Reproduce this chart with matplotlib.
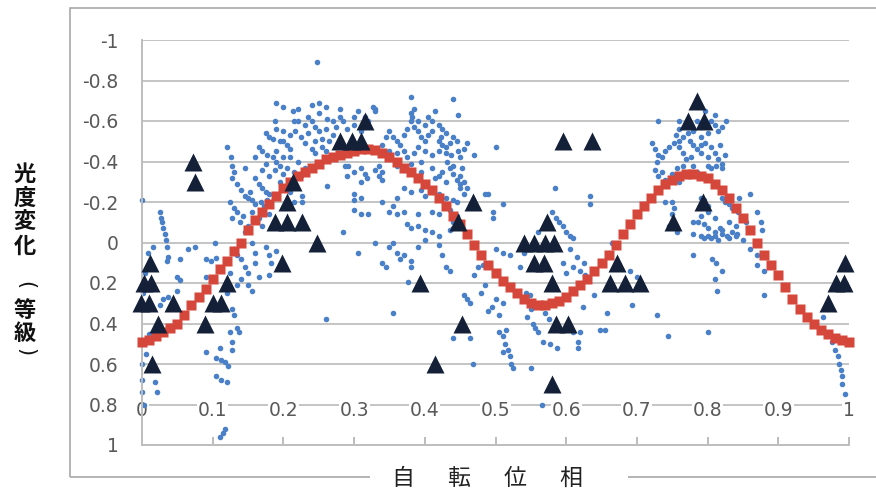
import numpy as np
import matplotlib
matplotlib.use("Agg")
import matplotlib.pyplot as plt
from matplotlib.patches import Rectangle

plt.rcParams['font.family'] = ['DejaVu Sans', 'Noto Sans CJK JP']

# ---------------- data ----------------
y_ticks = [-1, -0.8, -0.6, -0.4, -0.2, 0, 0.2, 0.4, 0.6, 0.8, 1]
y_tick_labels = ['-1', '-0.8', '-0.6', '-0.4', '-0.2', '0', '0.2', '0.4', '0.6', '0.8', '1']
x_ticks = [0, 0.1, 0.2, 0.3, 0.4, 0.5, 0.6, 0.7, 0.8, 0.9, 1]
x_tick_labels = ['0', '0.1', '0.2', '0.3', '0.4', '0.5', '0.6', '0.7', '0.8', '0.9', '1']
x_label = '自　  転　  位　  相'
y_label_top = '光\n度\n変\n化'
y_label_mid = '等\n級'
y_label_open = '('
y_label_close = ')'

# model light curve (red squares), phase 0.00 .. 1.00 in steps of 0.01
model_mag = [0.49, 0.48, 0.46, 0.44, 0.42, 0.40, 0.36, 0.31, 0.27, 0.23,
             0.18, 0.13, 0.09, 0.04, 0.00, -0.06, -0.11, -0.15, -0.19, -0.23,
             -0.27, -0.30, -0.33, -0.35, -0.37, -0.39, -0.41, -0.42, -0.43, -0.44,
             -0.45, -0.46, -0.46, -0.455, -0.44, -0.42, -0.40, -0.37, -0.35, -0.32,
             -0.29, -0.26, -0.22, -0.18, -0.13, -0.09, -0.04, 0.01, 0.06, 0.11,
             0.15, 0.19, 0.22, 0.25, 0.28, 0.30, 0.31, 0.31, 0.30, 0.29,
             0.27, 0.24, 0.21, 0.18, 0.14, 0.10, 0.06, 0.01, -0.04, -0.09,
             -0.14, -0.18, -0.22, -0.26, -0.29, -0.31, -0.33, -0.34, -0.34, -0.33,
             -0.32, -0.29, -0.26, -0.22, -0.17, -0.12, -0.06, 0.00, 0.06, 0.11,
             0.16, 0.22, 0.28, 0.33, 0.37, 0.40, 0.43, 0.45, 0.47, 0.48,
             0.49]
model_phase = np.linspace(0, 1, len(model_mag))

# observations (dark triangles)
tri_phase = [0.011, 0.003, 0.013, -0.002, 0.010, 0.044, 0.023, 0.014,
             0.072, 0.075, 0.089, 0.100, 0.112, 0.120,
             0.188, 0.205, 0.226, 0.205, 0.214, 0.198, 0.248,
             0.280, 0.297, 0.310, 0.315,
             0.393, 0.414, 0.452, 0.447, 0.468,
             0.540, 0.555, 0.570, 0.583, 0.555, 0.568, 0.573, 0.580, 0.585, 0.603, 0.580,
             0.596, 0.636,
             0.672, 0.662, 0.683, 0.704,
             0.751, 0.794, 0.772, 0.795, 0.785,
             0.970, 0.982, 0.993, 0.994]
tri_mag = [0.10, 0.20, 0.20, 0.30, 0.30, 0.30, 0.40, 0.60,
           -0.40, -0.30, 0.40, 0.30, 0.30, 0.20,
           -0.10, -0.10, -0.10, -0.20, -0.30, 0.10, 0.00,
           -0.50, -0.50, -0.50, -0.60,
           0.20, 0.60, 0.40, -0.10, -0.20,
           0.00, 0.00, 0.00, 0.00, 0.10, 0.10, -0.10, 0.20, 0.40, 0.40, 0.70,
           -0.50, -0.50,
           0.10, 0.20, 0.20, 0.20,
           -0.10, -0.20, -0.60, -0.60, -0.70,
           0.30, 0.20, 0.20, 0.10]

# observations (small blue dots), (phase, magnitude) by phase region
blue_a = [(0.0, -0.21), (0.025, -0.15), (0.027, -0.12), (0.028, -0.10), (0.030, -0.07), (0.032, -0.04),
          (0.034, -0.01), (0.036, 0.02), (0.016, 0.02), (0.035, 0.09), (0.054, 0.08), (0.037, 0.07),
          (0.050, 0.17), (0.050, 0.24), (0.025, 0.31), (0.030, 0.28), (0.012, 0.10), (0.008, 0.05),
          (0.004, 0.15), (0.002, 0.25), (0.0, 0.68), (0.0, 0.74), (0.018, 0.69), (0.021, 0.74),
          (0.005, 0.55), (0.010, 0.45), (0.0, 0.60), (0.003, 0.80), (0.037, 0.27), (0.054, 0.185),
          (0.075, 0.02), (0.065, 0.03),
          (0.103, 0.0), (0.090, 0.08), (0.097, 0.09), (0.105, 0.075), (0.090, 0.17), (0.125, 0.44),
          (0.135, 0.42), (0.137, 0.44), (0.127, 0.49), (0.127, 0.53), (0.110, 0.52), (0.105, 0.57),
          (0.112, 0.58), (0.118, 0.59), (0.122, 0.61), (0.090, 0.54), (0.104, 0.66), (0.112, 0.68),
          (0.120, 0.69), (0.114, 0.94), (0.110, 0.96), (0.117, 0.92), (0.130, 0.36), (0.128, 0.33),
          (0.120, 0.25), (0.125, 0.15)]
blue_b = [(0.130, 0.03), (0.135, 0.06), (0.140, 0.08), (0.145, 0.12), (0.150, 0.15), (0.140, 0.18),
          (0.135, 0.21), (0.150, 0.21), (0.155, 0.24), (0.160, 0.10), (0.160, 0.05), (0.155, 0.0),
          (0.165, 0.17), (0.180, 0.06), (0.182, 0.10), (0.180, 0.16), (0.175, 0.02), (0.190, 0.04),
          (0.120, -0.47), (0.126, -0.42), (0.128, -0.38), (0.130, -0.35), (0.127, -0.32), (0.146, -0.37),
          (0.165, -0.47), (0.170, -0.45), (0.177, -0.43), (0.160, -0.42), (0.175, -0.54), (0.180, -0.52),
          (0.185, -0.51), (0.185, -0.42), (0.190, -0.40), (0.188, -0.36), (0.195, -0.38), (0.200, -0.34),
          (0.205, -0.37), (0.160, -0.32), (0.165, -0.29), (0.170, -0.27), (0.175, -0.25), (0.180, -0.24),
          (0.135, -0.29), (0.140, -0.26), (0.145, -0.23), (0.150, -0.22), (0.153, -0.25), (0.125, -0.20),
          (0.130, -0.17), (0.135, -0.15), (0.128, -0.12), (0.138, -0.10), (0.143, -0.13), (0.155, -0.21),
          (0.160, -0.19), (0.168, -0.20), (0.172, -0.18), (0.177, -0.21), (0.188, -0.60), (0.190, -0.56),
          (0.190, -0.69), (0.200, -0.67), (0.214, -0.65), (0.200, -0.50), (0.205, -0.48), (0.210, -0.46),
          (0.145, -0.05), (0.150, -0.08), (0.165, -0.12), (0.170, -0.08), (0.155, -0.15), (0.180, -0.14)]
blue_c = [(0.248, -0.89), (0.250, -0.69), (0.250, -0.64), (0.260, -0.67), (0.270, -0.60), (0.280, -0.62),
          (0.280, -0.66), (0.216, -0.55), (0.225, -0.52), (0.235, -0.54), (0.245, -0.50), (0.255, -0.51),
          (0.250, -0.55), (0.230, -0.49), (0.240, -0.46), (0.260, -0.45), (0.255, -0.47), (0.245, -0.44),
          (0.262, -0.28), (0.287, -0.38), (0.292, -0.38), (0.310, -0.37), (0.315, -0.34), (0.318, -0.32),
          (0.300, -0.21), (0.300, -0.16), (0.310, -0.14), (0.320, -0.14), (0.284, -0.05), (0.226, -0.23),
          (0.226, -0.20), (0.327, -0.67), (0.330, -0.65), (0.210, -0.42), (0.220, -0.40), (0.230, -0.37),
          (0.225, -0.33), (0.215, -0.35), (0.290, -0.56), (0.300, -0.58), (0.310, -0.55), (0.270, -0.53),
          (0.320, -0.60), (0.220, -0.60), (0.235, -0.62), (0.220, -0.66), (0.240, -0.68), (0.262, -0.61),
          (0.260, 0.38), (0.305, 0.05), (0.290, -0.33), (0.300, -0.35), (0.310, -0.30), (0.330, -0.36),
          (0.335, -0.33), (0.340, -0.31)]
blue_d = [(0.380, -0.72), (0.385, -0.66), (0.440, -0.71), (0.447, -0.63), (0.330, -0.66),
          (0.380, -0.64), (0.382, -0.62), (0.380, -0.60), (0.420, -0.58), (0.425, -0.56), (0.430, -0.54),
          (0.423, -0.52), (0.350, -0.55), (0.355, -0.52), (0.360, -0.50), (0.365, -0.48), (0.370, -0.53),
          (0.375, -0.56), (0.385, -0.57), (0.390, -0.55), (0.395, -0.52), (0.400, -0.50), (0.405, -0.53),
          (0.410, -0.55), (0.390, -0.47), (0.400, -0.45), (0.410, -0.43), (0.395, -0.40), (0.420, -0.50),
          (0.425, -0.48), (0.430, -0.47), (0.435, -0.49), (0.440, -0.52), (0.445, -0.50), (0.437, -0.43),
          (0.432, -0.40), (0.440, -0.38), (0.450, -0.42), (0.455, -0.46), (0.447, -0.45), (0.452, -0.37),
          (0.460, -0.49), (0.500, -0.47), (0.470, -0.43), (0.490, -0.24), (0.510, -0.19), (0.497, -0.15),
          (0.497, -0.12), (0.485, -0.24), (0.335, -0.38), (0.340, -0.35), (0.360, -0.38), (0.370, -0.36),
          (0.380, -0.39), (0.395, -0.35), (0.410, -0.37), (0.420, -0.33), (0.425, -0.35), (0.415, -0.32),
          (0.430, -0.30), (0.440, -0.34), (0.445, -0.31), (0.370, -0.27), (0.380, -0.25), (0.395, -0.26),
          (0.400, -0.23), (0.410, -0.25), (0.420, -0.24), (0.430, -0.22), (0.440, -0.21), (0.445, -0.20),
          (0.450, -0.27), (0.455, -0.24), (0.450, -0.29), (0.350, -0.15), (0.360, -0.14), (0.370, -0.15),
          (0.390, -0.14), (0.410, -0.15), (0.420, -0.14), (0.300, -0.24), (0.310, -0.22), (0.340, -0.20),
          (0.355, -0.18), (0.360, -0.22), (0.375, -0.09), (0.380, -0.07), (0.390, -0.08), (0.400, -0.06),
          (0.410, -0.05), (0.420, -0.03), (0.435, -0.06), (0.440, -0.10), (0.445, -0.13), (0.450, -0.08),
          (0.330, 0.0), (0.355, 0.0), (0.430, -0.18), (0.435, -0.16), (0.440, -0.07)]
blue_e = [(0.350, 0.02), (0.360, 0.05), (0.365, 0.08), (0.340, 0.10), (0.345, 0.12), (0.370, 0.06),
          (0.380, 0.09), (0.390, 0.02), (0.400, -0.01), (0.420, 0.01), (0.425, 0.06), (0.430, 0.12),
          (0.435, 0.14), (0.355, 0.35), (0.376, 0.195), (0.455, 0.26), (0.460, 0.28), (0.464, 0.30),
          (0.440, 0.47), (0.464, 0.47), (0.468, 0.60), (0.380, 0.12), (0.475, 0.12), (0.482, 0.11),
          (0.485, 0.21), (0.490, 0.34), (0.495, 0.32), (0.500, 0.28), (0.505, 0.36), (0.510, 0.30),
          (0.505, 0.44), (0.510, 0.46), (0.515, 0.43), (0.513, 0.50), (0.518, 0.53), (0.520, 0.56),
          (0.522, 0.60), (0.510, 0.54), (0.500, 0.03), (0.510, 0.05), (0.520, 0.06), (0.525, 0.62),
          (0.470, 0.16), (0.480, 0.25), (0.550, 0.62), (0.567, 0.49), (0.577, 0.50), (0.587, 0.52),
          (0.553, 0.40), (0.556, 0.42), (0.560, 0.44), (0.617, 0.49), (0.617, 0.52), (0.610, 0.44),
          (0.620, 0.44), (0.624, 0.32), (0.605, 0.03), (0.615, 0.07), (0.610, 0.12), (0.620, 0.14),
          (0.625, 0.10), (0.627, 0.16), (0.566, 0.80), (0.543, 0.25), (0.549, 0.26), (0.545, 0.37),
          (0.550, 0.33), (0.570, 0.35), (0.575, 0.38), (0.540, 0.05), (0.535, 0.12), (0.595, 0.10),
          (0.600, 0.15), (0.584, -0.27), (0.580, -0.15), (0.585, -0.12), (0.590, -0.10), (0.595, -0.08),
          (0.600, -0.05), (0.605, -0.03), (0.610, -0.02), (0.634, -0.23), (0.634, -0.19), (0.575, -0.08),
          (0.560, -0.05)]
blue_f = [(0.648, 0.43), (0.658, 0.35), (0.655, 0.43), (0.693, 0.31), (0.728, 0.36), (0.744, 0.46),
          (0.700, 0.17), (0.690, 0.14), (0.640, 0.26), (0.660, 0.05), (0.665, 0.0),
          (0.730, -0.60), (0.797, -0.65), (0.810, -0.63), (0.826, -0.60), (0.820, -0.57), (0.815, -0.55),
          (0.760, -0.56), (0.755, -0.53), (0.765, -0.52), (0.772, -0.54), (0.780, -0.55), (0.790, -0.52),
          (0.800, -0.54), (0.722, -0.49), (0.725, -0.46), (0.730, -0.43), (0.728, -0.40), (0.735, -0.42),
          (0.740, -0.45), (0.745, -0.47), (0.752, -0.49), (0.760, -0.47), (0.765, -0.44), (0.770, -0.41),
          (0.777, -0.42), (0.785, -0.46), (0.790, -0.48), (0.797, -0.49), (0.805, -0.47), (0.810, -0.44),
          (0.815, -0.41), (0.820, -0.39), (0.818, -0.48), (0.825, -0.43), (0.725, -0.36), (0.730, -0.33),
          (0.735, -0.35), (0.740, -0.31), (0.750, -0.34), (0.757, -0.37), (0.765, -0.38), (0.800, -0.38),
          (0.805, -0.37), (0.812, -0.38), (0.820, -0.37), (0.740, -0.20), (0.750, -0.20), (0.753, -0.17),
          (0.750, -0.14), (0.745, -0.08), (0.757, -0.05), (0.790, -0.22), (0.795, -0.21), (0.800, -0.18),
          (0.820, -0.22), (0.825, -0.20), (0.830, -0.19), (0.835, -0.17), (0.845, -0.22), (0.843, -0.15),
          (0.847, -0.12), (0.855, -0.10), (0.857, -0.07), (0.860, -0.24), (0.780, -0.10), (0.787, -0.10),
          (0.795, -0.09), (0.800, -0.07), (0.810, -0.05), (0.817, -0.07), (0.820, -0.04), (0.827, -0.03),
          (0.835, -0.05), (0.842, -0.04), (0.850, -0.01), (0.815, -0.01), (0.805, -0.02), (0.795, -0.02),
          (0.820, -0.06), (0.780, -0.04), (0.790, -0.03), (0.800, -0.03), (0.810, -0.03), (0.830, -0.02),
          (0.840, -0.03), (0.870, -0.15), (0.875, -0.10), (0.877, -0.06)]
blue_g = [(0.780, 0.06), (0.806, 0.08), (0.812, 0.10), (0.820, 0.14), (0.810, 0.18), (0.813, 0.24),
          (0.800, 0.44), (0.870, 0.06), (0.870, 0.11), (0.880, 0.14), (0.880, 0.26), (0.860, 0.03),
          (0.963, 0.37), (0.976, 0.49), (0.980, 0.53), (0.984, 0.56), (0.986, 0.60), (0.988, 0.63),
          (0.990, 0.66), (0.990, 0.70), (0.995, 0.75)]
blue_h = [(0.190, -0.45), (0.195, -0.50), (0.200, -0.55), (0.210, -0.53), (0.215, -0.60), (0.230, -0.58),
          (0.240, -0.60), (0.245, -0.57), (0.260, -0.56), (0.265, -0.50), (0.275, -0.57), (0.285, -0.60),
          (0.300, -0.62), (0.305, -0.65), (0.315, -0.62), (0.170, -0.36), (0.175, -0.39), (0.180, -0.33),
          (0.195, -0.30), (0.200, -0.42), (0.210, -0.25), (0.215, -0.20),
          (0.340, -0.48), (0.345, -0.52), (0.350, -0.45), (0.360, -0.44), (0.370, -0.45), (0.375, -0.42),
          (0.385, -0.44), (0.390, -0.60), (0.400, -0.58), (0.405, -0.62), (0.410, -0.60), (0.415, -0.65),
          (0.420, -0.45), (0.430, -0.44), (0.435, -0.37), (0.450, -0.33), (0.455, -0.30), (0.460, -0.27),
          (0.760, -0.60), (0.770, -0.58), (0.785, -0.60), (0.790, -0.57), (0.805, -0.60), (0.810, -0.58),
          (0.760, -0.50), (0.775, -0.50), (0.780, -0.48), (0.790, -0.44), (0.800, -0.42), (0.780, -0.38),
          (0.785, -0.35), (0.770, -0.33), (0.760, -0.30), (0.830, -0.10), (0.840, -0.08), (0.810, -0.12),
          (0.800, -0.15), (0.790, -0.13)]

blue = np.array(blue_a + blue_b + blue_c + blue_d + blue_e + blue_f + blue_g + blue_h)

# ---------------- figure ----------------
W, H = 876, 493
fig = plt.figure(figsize=(W / 100, H / 100), dpi=100)
fig.patch.set_facecolor('white')

# chart-area border
fig.patches.append(Rectangle((70 / W, 1 - 477 / H), 1.0, (477 - 8) / H, transform=fig.transFigure,
                             fill=False, ec='#a8a8a8', lw=1.2, zorder=0))
# white box under the x-axis title
fig.patches.append(Rectangle((370 / W, 0), (628 - 370) / W, (493 - 450) / H, transform=fig.transFigure,
                             fc='white', ec='none', zorder=1))

ax = fig.add_axes([142 / W, 1 - 445 / H, 707 / W, 405 / H])
ax.set_facecolor('none')
ax.set_xlim(0, 1)
ax.set_ylim(1, -1)

ax.set_yticks(y_ticks)
ax.set_yticklabels(y_tick_labels)
ax.yaxis.grid(True, color='#c4c4c4', lw=1.4, zorder=0)
ax.set_axisbelow(True)
ax.tick_params(axis='y', length=0, pad=17, labelcolor='#595959', labelsize=13.5)

ax.set_xticks(x_ticks)
ax.set_xticklabels([])
ax.tick_params(axis='x', direction='in', length=6, width=1.2, color='#b0b0b0')
for xv, lab in zip(x_ticks, x_tick_labels):
    ax.text(xv, 0.83, lab, ha='center', va='center', fontsize=13.5, color='#595959',
            bbox=dict(fc='white', ec='none', pad=0.5), zorder=1.5)

for s in ['top', 'right']:
    ax.spines[s].set_visible(False)
for s in ['left', 'bottom']:
    ax.spines[s].set_color('#bdbdbd')
    ax.spines[s].set_linewidth(1.4)

ax.plot(blue[:, 0], blue[:, 1], 'o', color='#4a80c8', ms=4.0, mec='none', zorder=2, clip_on=False)
ax.plot(model_phase, model_mag, 's', color='#d6473b', ms=6.8, mec='none', zorder=3, clip_on=False)
ax.plot(tri_phase, tri_mag, '^', color='#142038', ms=12.3, mec='none', zorder=4, clip_on=False)

cjk = ['Noto Sans CJK JP', 'DejaVu Sans']
fig.text(487 / W, 1 - 478 / H, x_label, ha='center', va='center', fontsize=16.5,
         family=cjk, color='#222222', zorder=3)

# vertical y-axis title, stacked characters with rotated brackets
ykw = dict(ha='center', va='center', fontsize=16, family=cjk, fontweight='bold',
           color='#111111', linespacing=1.05)
fig.text(25 / W, 1 - 210 / H, y_label_top, **ykw)
fig.text(25 / W, 1 - 322 / H, y_label_mid, **ykw)
pkw = dict(ha='center', va='center', fontsize=15, family=['DejaVu Sans'], color='#111111',
           rotation=-90)
fig.text(25 / W, 1 - 285 / H, y_label_open, **pkw)
fig.text(25 / W, 1 - 352 / H, y_label_close, **pkw)

fig.savefig('out.png', dpi=100)
